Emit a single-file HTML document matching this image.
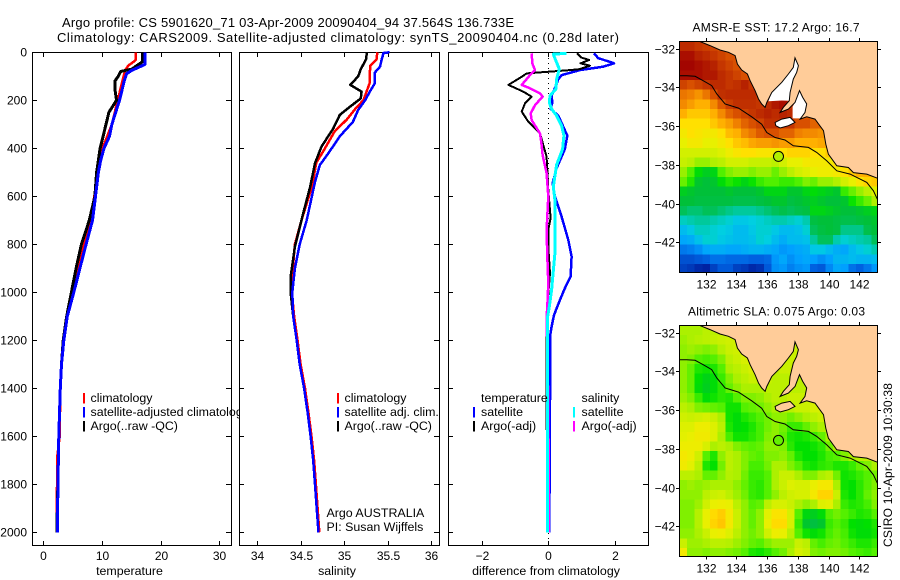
<!DOCTYPE html>
<html>
<head>
<meta charset="utf-8">
<title>Argo profile 5901620_71</title>
<style>
html,body{margin:0;padding:0;background:#fff;}
svg{display:block;}
text{font-family:"Liberation Sans",sans-serif;font-size:12px;fill:#000;}
</style>
</head>
<body>
<svg id="fig" xmlns="http://www.w3.org/2000/svg" width="900" height="580" viewBox="0 0 900 580">
<text x="62" y="27" font-size="13" style="font-size:13px" textLength="452">Argo profile: CS 5901620_71 03-Apr-2009 20090404_94 37.564S 136.733E</text>
<text x="57" y="42" style="font-size:13px" textLength="562">Climatology: CARS2009. Satellite-adjusted climatology: synTS_20090404.nc (0.28d later)</text>
<text transform="translate(892,547) rotate(-90)" textLength="164">CSIRO 10-Apr-2009 10:30:38</text>
</svg>
<script>
var depthTicks = [0,200,400,600,800,1000,1200,1400,1600,1800,2000];
var tempTicks = [0,10,20,30];
var salTicks = [34,34.5,35,35.5,36];
var diffTicks = [-2,0,2];
var lonTicks = [132,134,136,138,140,142];
var latTicks = [32,34,36,38,40,42];

var tempRedDepth = [0,30,40,55,70,90,120,200,300,400,500,600,700,800,900,1000,1100,1200,1400,1600,1680,1880,2000];
var tempRed = [15.8,15.8,15.4,14.5,14.1,13.8,13.5,12.7,11.7,10.1,9.3,8.7,8.0,6.9,5.9,4.95,4.0,3.4,2.9,2.8,2.4,2.3,2.4];
var tempBlackDepth = [0,40,70,80,100,120,150,200,250,300,350,400,450,500,600,700,800,900,1000,1100,1200,1300,1400,1600,1800,2000];
var tempBlack = [16.9,16.9,15.1,13.2,12.8,12.2,12.2,12.5,11.2,10.7,10.2,9.7,9.4,9.1,8.8,7.85,6.5,5.6,4.8,4.0,3.4,3.1,2.9,2.65,2.5,2.3];
var tempBlueDepth = [0,50,60,75,90,120,200,300,350,400,450,500,600,700,800,900,1000,1100,1200,1300,1400,1600,1800,2000];
var tempBlue = [17.35,17.35,16.5,15.1,14.2,13.8,13.0,11.7,11.3,10.35,9.8,9.4,8.9,8.4,7.3,6.25,5.2,4.1,3.5,3.1,2.9,2.65,2.5,2.4];

var salBlackDepth = [0,30,50,70,100,110,136,164,192,226,261,317,393,462,560,671,810,935,1000,1100,1200,1300,1400,1500,1600,1700,1800,1900,2000];
var salBlack = [35.26,35.25,35.22,35.19,35.16,35.135,35.07,35.2,35.19,35.07,34.95,34.875,34.74,34.665,34.61,34.53,34.435,34.385,34.385,34.415,34.455,34.49,34.54,34.58,34.615,34.645,34.665,34.685,34.705];
var salRedDepth = [0,30,55,100,130,160,200,230,280,330,400,460,560,700,800,900,1000,1100,1200,1300,1400,1500,1600,1700,1800,1900,2000];
var salRed = [35.38,35.37,35.3,35.29,35.29,35.26,35.22,35.14,35.03,34.89,34.78,34.68,34.63,34.51,34.435,34.41,34.40,34.425,34.465,34.5,34.55,34.59,34.625,34.655,34.675,34.695,34.715];
var salBlueDepth = [0,3,5,30,60,85,130,160,200,240,290,350,420,470,540,700,800,900,1000,1100,1200,1300,1400,1500,1600,1700,1800,1900,2000];
var salBlue = [35.52,35.45,35.45,35.43,35.41,35.35,35.35,35.30,35.24,35.16,35.1,34.95,34.82,34.72,34.665,34.57,34.49,34.435,34.405,34.415,34.455,34.49,34.54,34.58,34.615,34.645,34.665,34.685,34.705];

var diffBlueDepth = [4,24,46,60,74,95,112,139,181,209,236,264,347,403,483,546,601,685,782,851,934,983,1032,1095,1143,1185,1448,2000];
var diffBlue = [1.37,1.5,1.98,1.65,0.95,0.4,0.3,0.23,0.1,0.12,0.07,0.3,0.57,0.5,0.25,0.13,0.2,0.4,0.6,0.7,0.67,0.5,0.35,0.17,0.1,0.05,0.05,0.03];
var diffBlackDepth = [4,22,32,46,56,70,74,88,102,136,164,185,213,247,289,338,435,573,690,740,810,920,1060,1170,1530,2000];
var diffBlack = [0.87,1.0,1.23,0.97,1.25,0.95,0.65,-0.65,-0.8,-1.2,-0.75,-0.5,-0.7,-0.8,-0.6,-0.25,-0.05,0,0.07,0,0,0.05,-0.03,-0.05,-0.05,0];
var diffCyanDepth = [4,8,42,70,112,153,181,209,236,264,306,347,403,469,560,615,837,990,1060,1102,1448,2000];
var diffCyan = [0.55,0.15,0.25,0.33,0.25,0.23,0.05,0.03,0.1,0.25,0.4,0.47,0.43,0.25,0.15,0.2,0.2,0.1,0.03,-0.02,-0.03,-0.03];
var diffMagentaDepth = [4,46,74,95,136,150,171,185,220,255,283,338,386,428,504,601,740,851,962,1060,1102,1448,2000];
var diffMagenta = [-0.5,-0.48,-0.4,-0.55,-0.8,-0.55,-0.25,-0.17,-0.4,-0.53,-0.5,-0.25,-0.2,-0.17,-0.05,0,-0.05,-0.03,0,-0.03,-0.05,0,0.02];

var sstGrid = [
[19.6,19.6,19.4,19.3,19.2,19,19,19,19,19,19,19,19,19,19,19,19,19,19,19,19,19,19,19,19,19],
[20.2,20.2,19.8,19.6,19.4,19.2,19,19,19,19,19,19,19,19,19,19,19,19,19,19,19,19,19,19,19,19],
[20.4,20.4,20.2,20,19.8,19.4,19.2,19,18.8,19,19,19,19,19,19,19,19,19,19,19,19,19,19,19,19,19],
[20.2,20.2,20.2,20,20,19.6,19.4,19.2,19,19,19,19,19,19,19,19,19,19,19,19,19,19,19,19,19,19],
[19.2,19,19.2,19.4,19.6,19.6,19.4,19.5,19.8,19.4,19,19,19,19,19,19,19,19,19,19,19,19,19,19,19,19],
[18.6,18.5,18.3,18.6,19,19.5,19.6,19.6,19.6,19.6,19.4,19.3,19.3,19.3,19.3,19,19,19,19,19,19,19,19,19,19,19],
[18.4,18.2,18,18,18.4,18.9,19.3,19.5,19.5,19.5,19.4,19.6,20,20.2,19.5,19,19,19,19,19,19,19,19,19,19,19],
[18,17.8,17.8,17.8,18,18.4,18.8,19,19.2,19.4,19.6,19.8,19.6,19.8,19.6,19,18.9,18.8,18.8,18.8,18.8,18.8,18.8,18.8,18.8,18.8],
[17.6,17.6,17.6,17.6,17.8,18,18.2,18.5,18.8,19,19.2,19.5,19.5,19.4,19.4,19,19,18.8,18.8,18.6,18.6,18.6,18.6,18.6,18.6,18.6],
[17.4,17.6,17.5,17.4,17.4,17.6,17.9,18,18.4,18.6,18.9,19,19,18.8,18.8,18.5,18.4,18.4,18.3,18.2,18.2,18.2,18.2,18.2,18.2,18.2],
[17.2,17.4,17.4,17.2,17.2,17.4,17.6,17.8,17.9,18.1,18.2,18.2,18.3,18.2,18.2,18,18,18,18.1,18.1,18.1,18.1,18.1,18.1,18.1,18.1],
[17,17,17,17,17,17.1,17.3,17.5,17.6,17.6,17.5,17.5,17.4,17.6,17.7,17.7,17.7,17.6,17.6,17.8,18.2,18.2,18.2,18.2,18.2,18.2],
[16.9,16.8,16.6,16.6,16.7,16.8,17,17,17,16.9,16.9,16.9,16.8,17,17.2,17.2,17.4,17.4,17.4,17.4,17.6,18,18,18.2,18.2,18.2],
[16.6,16.3,15.9,15.7,15.8,16.3,16.5,16.6,16.6,16.5,16.6,16.6,16.4,16.6,16.8,17,17.1,17.2,17.3,17.3,17.4,17.6,17.8,18,18,18],
[16.4,16.1,15.6,15.5,15.6,15.9,16.1,16,15.8,16,16.2,16.3,16.3,16.2,16.2,16.3,16.5,16.4,16.6,16.6,16.7,17,17.2,17.5,17.7,17.8],
[15.7,15.6,15.5,15.5,15.5,15.5,15.6,15.5,15.5,15.5,15.6,15.8,15.8,15.8,15.6,15.6,15.8,15.9,15.8,15.7,15.6,16.2,16.4,16.6,16.8,17.1],
[15.5,15.5,15.4,15.4,15.4,15.4,15.4,15.3,15.3,15.3,15.4,15.5,15.6,15.6,15.4,15.5,15.6,15.7,15.6,15.5,15.5,15.6,16,16.2,16.4,16.7],
[15.2,15.1,15.1,15.2,15.2,15.1,15,14.9,14.9,14.9,15,15.1,15.2,15.3,15.2,15.3,15.4,15.8,15.8,15.7,15.6,15.5,15.5,15.6,15.7,15.8],
[14.7,14.8,14.9,14.9,14.8,14.7,14.6,14.4,14.4,14.5,14.6,14.7,14.8,14.8,14.7,14.6,14.8,15.4,15.5,15.5,15.4,15.3,15.3,15.4,15.5,15.6],
[14.2,14.4,14.7,14.7,14.6,14.5,14.4,14.2,14.2,14.4,14.6,14.6,14.4,14.2,14.2,14.3,14.6,15.2,15.4,15.5,15.4,15,15,15,15.3,15.5],
[13.9,14,14.3,14.6,14.6,14.4,14.3,14.2,14.2,14.3,14.6,14.5,14.2,14,14.2,14.2,14.3,14.9,15.2,15.2,14.8,14.6,14.7,14.8,14.9,15.2],
[13.3,13.4,13.6,13.9,14,14,13.9,13.9,14,14.1,14.1,14,13.9,13.7,13.8,13.9,14,14.4,14.4,14.2,14,13.9,14.2,14.4,14.6,14.8],
[12.8,12.8,12.9,13,13.2,13.2,13.1,13.1,13.1,13,13,13.1,13.7,13.9,13.6,13.8,13.9,13.8,13.6,13.8,14.1,14.1,14.2,14.1,14.1,14.2],
[12.6,12.5,12.3,12.2,12.6,12.9,12.9,12.6,12.5,12.3,12.4,12.9,13.6,13.7,13.4,13.6,13.7,13,12.9,13.5,13.9,13.8,13.2,13,13.3,13.7]
];

var slaGrid = [
[.08,.08,.08,.10,.10,.10,.12,.12,.12,.12,.12,.12,.12,.12,.12,.12,.12,.12,.12,.12,.12,.12,.12,.12,.12,.12],
[.07,.08,.09,.10,.11,.12,.13,.13,.13,.13,.13,.12,.12,.12,.12,.12,.12,.12,.12,.12,.12,.12,.12,.12,.12,.12],
[.06,.07,.06,.05,.06,.09,.12,.13,.14,.14,.13,.12,.12,.12,.12,.12,.12,.12,.12,.12,.12,.12,.12,.12,.12,.12],
[.06,.05,.02,.01,.02,.05,.10,.12,.14,.14,.14,.12,.12,.12,.12,.12,.12,.12,.12,.12,.12,.12,.12,.12,.12,.12],
[.06,.03,-.02,-.03,-.02,.02,.08,.10,.12,.14,.14,.12,.10,.12,.12,.12,.12,.12,.12,.12,.12,.12,.12,.12,.12,.12],
[.06,.03,-.04,-.07,-.05,.00,.05,.08,.10,.12,.12,.12,.10,.10,.10,.10,.10,.10,.10,.10,.10,.10,.10,.10,.10,.10],
[.06,.03,-.05,-.08,-.05,-.01,.03,.06,.08,.08,.08,.10,.10,.10,.10,.10,.10,.10,.10,.10,.10,.10,.10,.10,.10,.10],
[.07,.05,.00,-.05,-.03,-.01,-.02,.02,.05,.05,.06,.08,.10,.10,.12,.12,.12,.14,.14,.14,.14,.14,.14,.14,.14,.14],
[.10,.08,.05,.04,.03,.02,-.03,-.03,.02,.03,.04,.06,.08,.10,.10,.12,.12,.14,.14,.14,.14,.14,.14,.14,.14,.14],
[.13,.12,.13,.14,.12,.08,-.03,-.05,-.02,.00,.02,.04,.06,.06,.04,.06,.08,.10,.12,.12,.12,.12,.12,.12,.12,.12],
[.15,.15,.18,.18,.15,.10,-.02,-.05,-.04,-.02,.01,.04,.06,.04,.00,.00,.03,.06,.08,.10,.10,.10,.10,.10,.10,.10],
[.16,.17,.19,.19,.15,.08,.01,-.03,-.03,-.01,.01,.05,.06,.03,-.02,-.03,-.02,.00,.03,.08,.10,.10,.10,.10,.10,.10],
[.18,.18,.18,.14,.08,.10,.08,.05,.03,.02,.03,.06,.06,.05,-.01,-.04,-.04,-.03,-.01,.04,.08,.10,.10,.10,.10,.10],
[.20,.18,.13,.02,-.02,.06,.10,.08,.05,.03,.02,.05,.05,.06,.03,-.02,-.04,-.04,-.02,.01,.02,.05,.08,.10,.10,.10],
[.19,.16,.10,-.02,-.04,.04,.10,.08,.05,.01,.01,.04,.08,.08,.05,.02,-.02,-.03,-.01,.00,-.02,-.02,.00,.03,.05,.08],
[.10,.10,.08,.03,.03,.06,.09,.08,.04,.00,.00,.02,.08,.12,.12,.08,.05,.05,.08,.10,.04,-.03,-.02,.00,.02,.04],
[.06,.07,.06,.07,.08,.08,.08,.06,.03,.00,-.01,.02,.08,.12,.15,.14,.14,.17,.20,.20,.08,-.03,-.04,-.01,.02,.05],
[.06,.06,.06,.10,.12,.13,.10,.07,.04,.00,-.01,.02,.06,.10,.13,.14,.14,.20,.25,.25,.12,-.02,-.04,-.01,.03,.06],
[.05,.05,.07,.13,.17,.18,.17,.10,.06,.02,.03,.10,.14,.14,.12,.08,.06,.08,.15,.16,.08,.00,-.02,-.01,.01,.05],
[.05,.05,.09,.17,.24,.26,.20,.12,.06,.03,.06,.16,.22,.22,.14,.02,-.06,-.08,-.05,.02,.04,.02,.00,-.02,-.01,.02],
[.05,.05,.09,.17,.25,.27,.20,.12,.06,.03,.06,.17,.24,.24,.14,.00,-.10,-.13,-.10,.00,.02,.00,-.04,-.05,-.04,-.02],
[.06,.06,.08,.12,.17,.18,.15,.10,.06,.04,.06,.13,.18,.17,.10,.02,-.03,-.05,-.03,.01,.03,.01,-.03,-.05,-.05,-.03],
[.12,.07,.07,.08,.10,.10,.09,.07,.05,.03,.02,.05,.07,.07,.07,.12,.10,.03,.01,.03,.04,.02,.00,-.02,-.02,.00],
[.20,.06,.06,.05,.06,.06,.05,.04,.02,-.02,-.03,-.01,.02,.04,.08,.14,.12,.05,.04,.05,.05,.04,.02,.01,.00,.02]
];

var coastLon = [131.59,132.28,132.93,133.48,133.91,134.06,134.34,134.71,134.89,135.21,135.43,135.64,135.86,135.97,136.30,136.95,137.38,137.70,137.81,138.03,137.92,137.70,137.49,137.44,137.05,136.84,137.38,137.81,138.10,138.31,138.57,138.46,138.14,138.57,139.11,139.66,139.81,139.98,140.53,141.28,141.61,142.48,143.17];
var coastLat = [31.62,31.84,32.07,32.19,32.36,32.79,33.10,33.31,33.66,34.17,34.60,34.86,35.03,34.78,34.26,33.74,33.31,32.97,32.48,32.88,33.22,33.57,34.26,34.69,35.03,35.29,35.12,34.78,34.17,34.52,34.86,35.29,35.64,35.52,35.64,36.24,36.93,37.45,38.05,38.14,38.40,38.48,38.69];
var islandLon = [136.51,136.95,137.49,137.81,137.38,136.84,136.56];
var islandLat = [35.81,35.64,35.55,35.81,35.98,36.10,35.98];
var spencerLon = [136.08,136.30,136.95,137.38,137.70,137.81,138.03,137.92,137.70,137.49,137.44,136.95];
var spencerLat = [34.72,34.26,33.74,33.31,32.97,32.48,32.88,33.22,33.57,34.26,34.69,34.68];
var vincentLon = [138.10,138.31,138.57,138.46,138.14,137.65,137.65,137.81];
var vincentLat = [34.17,34.52,34.86,35.29,35.60,35.60,35.00,34.78];
var contourLon = [130.29,130.76,131.31,131.85,132.39,132.72,133.26,134.13,134.99,135.64,135.97,136.51,137.16,137.70,138.68,139.22,139.87,140.53,141.39,142.48,142.91,143.17];
var contourLat = [33.40,33.40,33.43,33.66,33.91,34.34,34.86,35.07,35.52,35.90,36.33,36.59,36.72,37.02,37.10,37.36,37.79,38.31,38.48,38.91,39.34,39.78];
var profileLon = [136.733];
var profileLat = [37.564];
var sstArgo = [16.7];
var slaArgo = [0.03];

var NS = 'http://www.w3.org/2000/svg';
var fig = document.getElementById('fig');

function mk(tag, attrs, parent) {
  var el = document.createElementNS(NS, tag);
  for (var k in attrs) el.setAttribute(k, attrs[k]);
  (parent || fig).appendChild(el);
  return el;
}
function depthY(d) { return 52.3 + 0.24 * d; }
function minusLabel(v) { return String(v).replace('-', '\u2212'); }

var cmapStops = [[0,0,16,144],[0.02,0,32,160],[0.11,0,96,224],[0.2,0,160,255],[0.28,0,208,224],[0.33,0,200,144],[0.36,0,192,80],[0.39,0,192,56],[0.44,0,224,0],[0.478,80,240,0],[0.522,176,240,0],[0.578,232,240,0],[0.622,255,224,0],[0.667,255,176,0],[0.722,240,128,0],[0.778,216,80,0],[0.833,192,48,0],[0.889,176,24,0],[0.944,160,0,0],[1,136,0,0]];
function cmap(t) {
  t = Math.max(0, Math.min(1, t));
  for (var i = 1; i < cmapStops.length; i++) {
    if (t <= cmapStops[i][0]) {
      var a = cmapStops[i-1], b = cmapStops[i], f = (t - a[0]) / (b[0] - a[0]);
      return 'rgb(' + Math.round(a[1]+(b[1]-a[1])*f) + ',' + Math.round(a[2]+(b[2]-a[2])*f) + ',' + Math.round(a[3]+(b[3]-a[3])*f) + ')';
    }
  }
  return 'rgb(136,0,0)';
}

function drawPanel(name, left, right, xFn, xTicks, xLabel, showDepth) {
  var g = mk('g', {});
  
  
  var bg = mk('rect', {x: left, y: 52, width: right - left, height: 494, fill: '#fff'}, g);
  
  
  var frame = mk('rect', {x: left + 0.5, y: 52.5, width: right - left, height: 493, fill: 'none', stroke: '#000', 'stroke-width': 1, 'shape-rendering': 'crispEdges'}, g);
  
  
  depthTicks.forEach(function (d) {
    var y = Math.round(depthY(d)) + 0.5;
    if (d === 0) y = 52.5;
    var t = mk('path', {d: 'M' + left + ' ' + y + 'h5M' + right + ' ' + y + 'h-5', stroke: '#000', fill: 'none', 'shape-rendering': 'crispEdges'}, g);
    
    
    if (showDepth) {
      var l = mk('text', {x: left - 5, y: y + 4, 'text-anchor': 'end'}, g);
      
      
      l.textContent = d;
    }
  });
  xTicks.forEach(function (v) {
    var x = Math.round(xFn(v)) + 0.5;
    var t = mk('path', {d: 'M' + x + ' 52v5M' + x + ' 546v-5', stroke: '#000', fill: 'none', 'shape-rendering': 'crispEdges'}, g);
    
    
    var l = mk('text', {x: x, y: 560, 'text-anchor': 'middle'}, g);
    
    
    l.textContent = minusLabel(v);
  });
  var xl = mk('text', {x: (left + right) / 2 - 2, y: 575, 'text-anchor': 'middle', style: 'font-size:12.4px'}, g);
  
  
  xl.textContent = xLabel;
  return g;
}

function drawLine(parent, name, depths, values, xFn, color, width) {
  var pts = depths.map(function (d, i) { return xFn(values[i]).toFixed(1) + ',' + depthY(d).toFixed(1); }).join(' ');
  var line = mk('polyline', {points: pts, fill: 'none', stroke: color, 'stroke-width': width, 'stroke-linejoin': 'round', 'shape-rendering': 'crispEdges'}, parent);
  
  
}

function legendRow(parent, name, barX, textX, baseline, color, label) {
  if (color) {
    var b = mk('rect', {x: barX, y: baseline - 9, width: 2, height: 10.5, fill: color, 'shape-rendering': 'crispEdges'}, parent);
    
    
  }
  var t = mk('text', {x: textX, y: baseline, style: 'font-size:12.4px'}, parent);
  
  
  t.textContent = label;
}

/* temperature panel */
function tempX(v) { return 43.3 + 5.86 * v; }
var p1 = drawPanel('temperature', 32, 231, tempX, tempTicks, 'temperature', true);
drawLine(p1, 'temperature-climatology-line', tempRedDepth, tempRed, tempX, '#f00', 2.5);
drawLine(p1, 'temperature-argo-line', tempBlackDepth, tempBlack, tempX, '#000', 3);
drawLine(p1, 'temperature-satellite-line', tempBlueDepth, tempBlue, tempX, '#00f', 3);
legendRow(p1, 'temperature-climatology', 83, 90.5, 402, '#f00', 'climatology');
legendRow(p1, 'temperature-satellite', 83, 90.5, 416, '#00f', 'satellite-adjusted climatology');
legendRow(p1, 'temperature-argo', 83, 90.5, 430, '#000', 'Argo(..raw -QC)');

/* salinity panel */
function salX(v) { return 257 + 87.2 * (v - 34); }
var p2 = drawPanel('salinity', 239, 439, salX, salTicks, 'salinity', false);
drawLine(p2, 'salinity-climatology-line', salRedDepth, salRed, salX, '#f00', 2.5);
drawLine(p2, 'salinity-argo-line', salBlackDepth, salBlack, salX, '#000', 2.5);
drawLine(p2, 'salinity-satellite-line', salBlueDepth, salBlue, salX, '#00f', 2.5);
legendRow(p2, 'salinity-climatology', 337, 344.5, 402, '#f00', 'climatology');
legendRow(p2, 'salinity-satellite', 337, 344.5, 416, '#00f', 'satellite adj. clim.');
legendRow(p2, 'salinity-argo', 337, 344.5, 430, '#000', 'Argo(..raw -QC)');
legendRow(p2, 'float-country', 0, 326.5, 517, null, 'Argo AUSTRALIA');
legendRow(p2, 'float-pi', 0, 326.5, 531, null, 'PI: Susan Wijffels');

/* difference panel */
function diffX(v) { return 548.3 + 33.25 * v; }
var p3 = drawPanel('difference', 448, 648, diffX, diffTicks, 'difference from climatology', false);
var zero = mk('line', {x1: 548.5, x2: 548.5, y1: 53, y2: 545, stroke: '#000', 'stroke-dasharray': '1 4', 'shape-rendering': 'crispEdges'}, p3);


drawLine(p3, 'difference-temp-satellite-line', diffBlueDepth, diffBlue, diffX, '#00f', 2.5);
drawLine(p3, 'difference-temp-argo-line', diffBlackDepth, diffBlack, diffX, '#000', 2);
drawLine(p3, 'difference-sal-argo-line', diffMagentaDepth, diffMagenta, diffX, '#f0f', 2.5);
drawLine(p3, 'difference-sal-satellite-line', diffCyanDepth, diffCyan, diffX, '#0ff', 3);
legendRow(p3, 'difference-temperature-heading', 0, 481, 402, null, 'temperature');
legendRow(p3, 'difference-temp-satellite', 473, 481, 416, '#00f', 'satellite');
legendRow(p3, 'difference-temp-argo', 473, 481, 430, '#000', 'Argo(-adj)');
legendRow(p3, 'difference-salinity-heading', 0, 581.5, 402, null, 'salinity');
legendRow(p3, 'difference-sal-satellite', 573, 581.5, 416, '#0ff', 'satellite');
legendRow(p3, 'difference-sal-argo', 573, 581.5, 430, '#f0f', 'Argo(-adj)');

/* maps */
var LON0 = 130.28, LAT0 = 31.62, MAP_L = 679.3, MAP_W = 198;
function mapX(lon) { return MAP_L + (lon - LON0) * 15.37; }

function drawMap(name, top, grid, colorFn, title, titleX, titleW, argoVal, whiteGulfs) {
  function mapY(lat) { return top + (lat - LAT0) * 19.36; }
  function poly(lons, lats) { return lons.map(function (v, i) { return mapX(v).toFixed(1) + ',' + mapY(lats[i]).toFixed(1); }).join(' '); }
  var g = mk('g', {});
  
  
  var cid = name + '-clip';
  var defs = mk('defs', {}, g);
  var cp = mk('clipPath', {id: cid}, defs);
  mk('rect', {x: MAP_L, y: top, width: MAP_W, height: 231.7}, cp);
  var body = mk('g', {'clip-path': 'url(#' + cid + ')'}, g);
  grid.forEach(function (row, r) {
    row.forEach(function (v, c) {
      var cell = mk('rect', {x: mapX(LON0 + 0.5 * c).toFixed(2), y: mapY(LAT0 + 0.5 * r).toFixed(2), width: 8.2, height: 10.2, fill: colorFn(v), 'shape-rendering': 'crispEdges'}, body);
      
      
    });
  });
  if (whiteGulfs) {
    var s = mk('polygon', {points: poly(spencerLon, spencerLat), fill: '#fff'}, body);
    
    
    var v = mk('polygon', {points: poly(vincentLon, vincentLat), fill: '#fff'}, body);
    
    
  }
  var pts = poly(coastLon, coastLat) + ' ' + mapX(143.3).toFixed(1) + ',' + mapY(38.69).toFixed(1) + ' ' + mapX(143.3).toFixed(1) + ',' + (top - 1) + ' ' + mapX(131.59).toFixed(1) + ',' + (top - 1);
  var land = mk('polygon', {points: pts, fill: '#ffcc99', stroke: 'none'}, body);
  
  
  var coast = mk('polyline', {points: poly(coastLon, coastLat), fill: 'none', stroke: '#000', 'stroke-width': 1}, body);
  
  
  var isl = mk('polygon', {points: poly(islandLon, islandLat), fill: whiteGulfs ? '#fff' : '#ffcc99', stroke: '#000', 'stroke-width': 1}, body);
  
  
  var cont = mk('polyline', {points: poly(contourLon, contourLat), fill: 'none', stroke: '#000', 'stroke-width': 1}, body);
  
  
  var mark = mk('circle', {cx: mapX(profileLon[0]).toFixed(1), cy: mapY(profileLat[0]).toFixed(1), r: 5, fill: colorFn(argoVal), stroke: '#000', 'stroke-width': 1}, body);
  
  
  var fr = mk('rect', {x: 679.5, y: Math.round(top) + 0.5, width: 198, height: 231, fill: 'none', stroke: '#000', 'shape-rendering': 'crispEdges'}, g);
  
  
  var bottom = Math.round(top) + 231.5;
  lonTicks.forEach(function (v) {
    var x = Math.round(mapX(v)) + 0.5;
    var t = mk('path', {d: 'M' + x + ' ' + (Math.round(top)) + 'v-3M' + x + ' ' + bottom + 'v3', stroke: '#000', fill: 'none', 'shape-rendering': 'crispEdges'}, g);
    
    
    var l = mk('text', {x: x, y: bottom + 16, 'text-anchor': 'middle'}, g);
    
    
    l.textContent = v;
  });
  latTicks.forEach(function (v) {
    var y = Math.round(mapY(v)) + 0.5;
    var t = mk('path', {d: 'M679 ' + y + 'h-3M878 ' + y + 'h3', stroke: '#000', fill: 'none', 'shape-rendering': 'crispEdges'}, g);
    
    
    var l = mk('text', {x: 675, y: y + 4, 'text-anchor': 'end'}, g);
    
    
    l.textContent = '\u2212' + v;
  });
  var tt = mk('text', {x: titleX, y: top - 10, textLength: titleW}, g);
  
  
  tt.textContent = title;
}

function sstColor(v) { return cmap((v - 12) / 9); }
function slaColor(v) { return cmap((v + 0.7) / 1.5); }
drawMap('sst', 41.3, sstGrid, sstColor, 'AMSR-E SST: 17.2 Argo: 16.7', 692.5, 167, sstArgo[0], true);
drawMap('sla', 325.3, slaGrid, slaColor, 'Altimetric SLA: 0.075 Argo: 0.03', 688, 177, slaArgo[0], false);
</script>
</body>
</html>
